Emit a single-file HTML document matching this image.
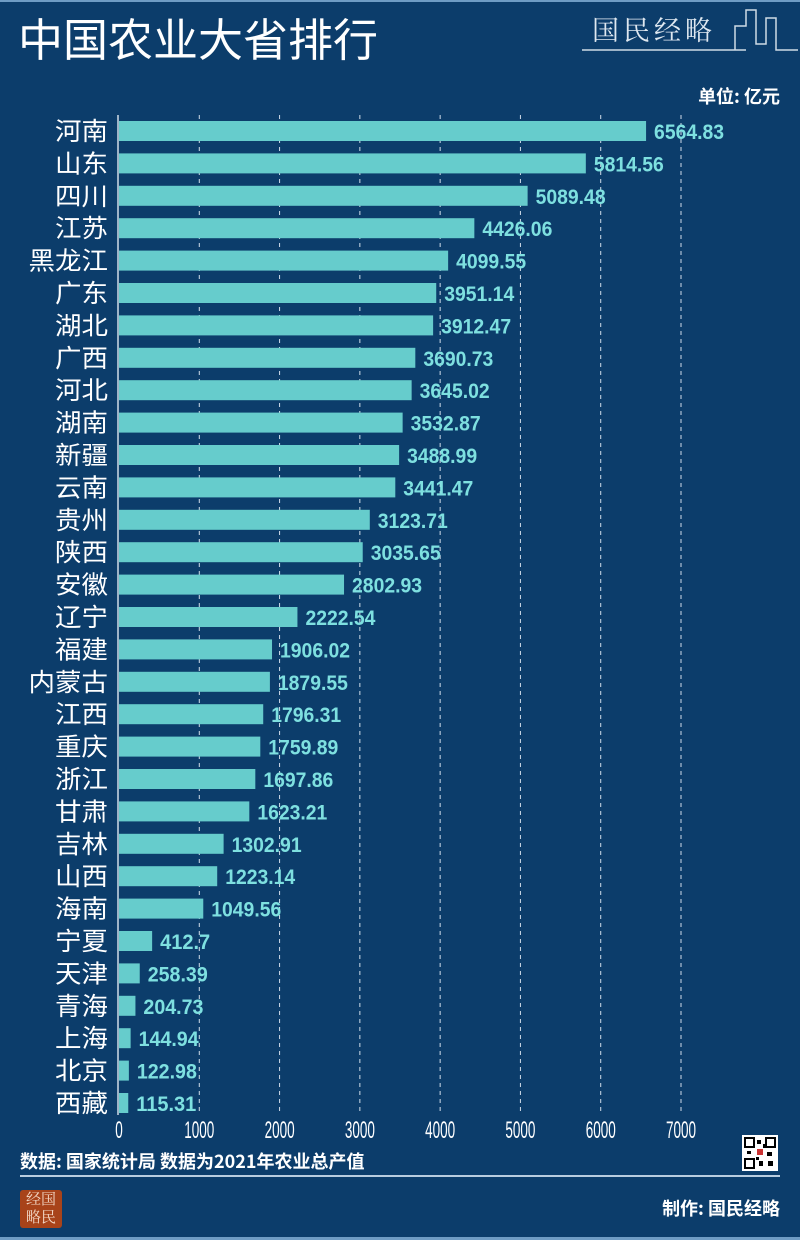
<!DOCTYPE html>
<html><head><meta charset="utf-8">
<style>
body{margin:0;background:#0c3d6b;}
#wrap{position:relative;width:800px;height:1240px;background:#0c3d6b;overflow:hidden;font-family:"Liberation Sans","Noto Sans CJK SC",sans-serif;color:#fff;}
.abs{position:absolute;}
</style></head>
<body>
<div id="wrap">
<div class="abs" style="left:0;top:0;width:800px;height:2px;background:#6f9cc4"></div>
<div class="abs" style="left:18px;top:12px;font-size:45px;font-family:'Noto Sans CJK SC',sans-serif;line-height:1.1">中国农业大省排行</div>
<div class="abs" style="left:592px;top:9px;font-size:27px;font-family:'Noto Serif CJK SC',serif;color:#dfe8f0;letter-spacing:4px">国民经略</div>
<svg class="abs" style="left:580px;top:4px" width="220" height="50">
<polyline points="2,46 166,46" stroke="#cfdbe6" stroke-width="1.5" fill="none"/>
<polyline points="155,46 155,22 166,22 166,6 176,6 176,40 186,40 186,14 196,14 196,46 218,46" stroke="#cfdbe6" stroke-width="1.5" fill="none"/>
</svg>
<div class="abs" style="right:20px;top:83px;font-size:18px;font-weight:bold;font-family:'Noto Sans CJK SC',sans-serif">单位: 亿元</div>
<svg id="chart" class="abs" style="left:0;top:0" width="800" height="1240"></svg>
<div class="abs" style="left:20px;top:1148px;font-size:18px;font-weight:bold;font-family:'Noto Sans CJK SC',sans-serif">数据: 国家统计局 数据为2021年农业总产值</div>
<div class="abs" style="left:20px;top:1175px;width:760px;height:2px;background:#b9cde0"></div>
<svg class="abs" style="left:742px;top:1135px" width="36" height="36">
<rect width="36" height="36" fill="#fff"/>
<rect x="3" y="3" width="9" height="9" fill="none" stroke="#000" stroke-width="2"/>
<rect x="24" y="3" width="9" height="9" fill="none" stroke="#000" stroke-width="2"/>
<rect x="3" y="24" width="9" height="9" fill="none" stroke="#000" stroke-width="2"/>
<rect x="15" y="5" width="4" height="4"/><rect x="15" y="14" width="6" height="6" fill="#c33"/><rect x="5" y="16" width="4" height="3"/><rect x="25" y="17" width="5" height="4"/><rect x="17" y="26" width="4" height="5"/><rect x="26" y="26" width="5" height="5"/><rect x="14" y="22" width="3" height="3"/><rect x="21" y="9" width="3" height="4"/>
</svg>
<div class="abs" style="left:20px;top:1190px;width:42px;height:38px;background:#a8431a;border-radius:3px;font-size:15px;line-height:18px;font-family:'Noto Serif CJK SC',serif;color:#f3d9c8;text-align:center">经国<br>略民</div>
<div class="abs" style="right:20px;top:1195px;font-size:18px;font-weight:bold;font-family:'Noto Sans CJK SC',sans-serif">制作: 国民经略</div>
<div class="abs" style="left:0;top:1237px;width:800px;height:3px;background:#6f9cc4"></div>
</div>
<script>
const categories=["河南","山东","四川","江苏","黑龙江","广东","湖北","广西","河北","湖南","新疆","云南","贵州","陕西","安徽","辽宁","福建","内蒙古","江西","重庆","浙江","甘肃","吉林","山西","海南","宁夏","天津","青海","上海","北京","西藏"];
const values=[6564.83,5814.56,5089.48,4426.06,4099.55,3951.14,3912.47,3690.73,3645.02,3532.87,3488.99,3441.47,3123.71,3035.65,2802.93,2222.54,1906.02,1879.55,1796.31,1759.89,1697.86,1623.21,1302.91,1223.14,1049.56,412.7,258.39,204.73,144.94,122.98,115.31];
const ticks=[0,1000,2000,3000,4000,5000,6000,7000];
const svg=document.getElementById('chart');
const NS='http://www.w3.org/2000/svg';
const x0=119,x1=681,vmax=7000,yTop=131,yBot=1103;
const xs=v=>x0+(x1-x0)*v/vmax;
const ys=i=>yTop+(yBot-yTop)*i/(categories.length-1);
function mk(t,a){const e=document.createElementNS(NS,t);for(const k in a)e.setAttribute(k,a[k]);svg.appendChild(e);return e;}
ticks.forEach(t=>{
 if(t>0){const g=mk('line',{x1:xs(t),x2:xs(t),y1:115,y2:1115,stroke:'#d0dce8','stroke-width':1,'stroke-dasharray':'4,4'});
 
 }
 const s=String(t);
 const l=mk('text',{x:xs(t),y:1138,'text-anchor':'middle',fill:'#fff','font-size':24,'font-family':'Liberation Sans, sans-serif',textLength:s.length*7.5,lengthAdjust:'spacingAndGlyphs'});
 l.textContent=s;
 
 
});
const ax=mk('line',{x1:x0-1,x2:x0-1,y1:115,y2:1115,stroke:'#d0dce8','stroke-width':1.5});


categories.forEach((c,i)=>{
 const y=ys(i);
 const r=mk('rect',{x:x0,y:y-10,width:xs(values[i])-x0,height:20,fill:'#66cccc'});
 
 
 const t=mk('text',{x:108,y:y+9,'text-anchor':'end',fill:'#fff','font-size':25,'font-family':'Noto Sans CJK SC, sans-serif',textLength:c.length*26.5,lengthAdjust:'spacingAndGlyphs'});
 t.textContent=c;
 
 
 const s=String(values[i]);
 const v=mk('text',{x:xs(values[i])+8,y:y+8,fill:'#7ee0e0','font-size':21,'font-weight':'bold','font-family':'Liberation Sans, sans-serif',textLength:s.length*10,lengthAdjust:'spacingAndGlyphs'});
 v.textContent=s;
 
 
});
</script>
</body></html>
